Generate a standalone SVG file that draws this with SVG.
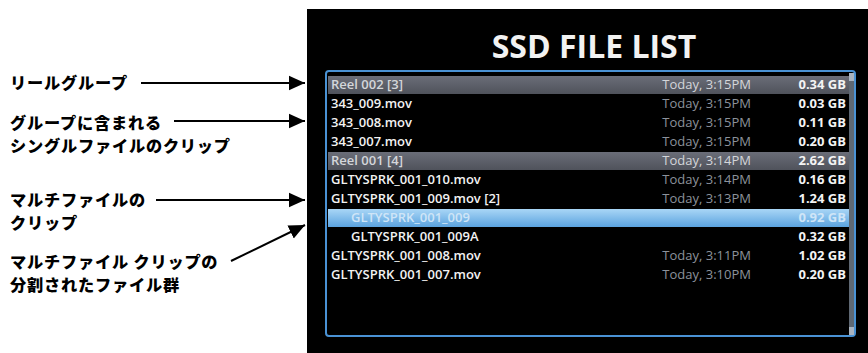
<svg xmlns="http://www.w3.org/2000/svg" width="868" height="353" viewBox="0 0 868 353">
<defs>
<style>
.lbl{font-family:"Noto Sans CJK JP","Noto Sans",sans-serif;font-weight:900;font-size:16.2px;letter-spacing:0.8px;fill:#000}
.nm{font-family:"Open Sans","DejaVu Sans",sans-serif;font-size:13px;fill:#f2f2f2;font-weight:600}
.dt{font-family:"Open Sans","DejaVu Sans",sans-serif;font-size:13px;fill:#8c929b;text-anchor:end}
.sz{font-family:"Open Sans","DejaVu Sans",sans-serif;font-size:13px;fill:#f4f4f4;font-weight:700;text-anchor:end}
.hl{fill:#cfe5f7}
.rd{fill:#d4d6da}
.arrow{stroke:#000;stroke-width:2;fill:none;marker-end:url(#ah)}
</style>
<marker id="ah" viewBox="0 0 10 10" refX="10" refY="5" markerWidth="8" markerHeight="8" orient="auto" markerUnits="strokeWidth">
<path d="M0,0.5 L10,5 L0,9.5 z" fill="#000"/>
</marker>
<linearGradient id="reel" x1="0" y1="0" x2="0" y2="1">
<stop offset="0" stop-color="#6a6d78"/>
<stop offset="1" stop-color="#4f525b"/>
</linearGradient>
<linearGradient id="sel" x1="0" y1="0" x2="0" y2="1">
<stop offset="0" stop-color="#a9d6f6"/>
<stop offset="1" stop-color="#5ba3df"/>
</linearGradient>
</defs>
<rect width="868" height="353" fill="#fff"/>

<g id="screen">
<rect x="307" y="9" width="561" height="344" fill="#000"/>
<text x="594" y="58" font-family="'Open Sans','DejaVu Sans',sans-serif" font-weight="700" font-size="32" fill="#f2f2f2" text-anchor="middle">SSD FILE LIST</text>
<rect x="326" y="71" width="529" height="265" rx="3" fill="none" stroke="#4a92d4" stroke-width="2"/>
<rect x="849" y="73" width="5" height="262" fill="#5f6873"/>
<rect x="849" y="73" width="5" height="8" fill="#aab4c0"/>
<rect x="849" y="327" width="5" height="8" fill="#aab4c0"/>
</g>

<g id="rows">
<rect x="328" y="76" width="521" height="18" fill="url(#reel)"/>
<text class="nm rd" x="331" y="89">Reel 002 [3]</text>
<text class="dt rd" x="751" y="89">Today, 3:15PM</text>
<text class="sz" x="846" y="89">0.34 GB</text>

<text class="nm" x="331" y="108">343_009.mov</text>
<text class="dt" x="751" y="108">Today, 3:15PM</text>
<text class="sz" x="846" y="108">0.03 GB</text>

<text class="nm" x="331" y="127">343_008.mov</text>
<text class="dt" x="751" y="127">Today, 3:15PM</text>
<text class="sz" x="846" y="127">0.11 GB</text>

<text class="nm" x="331" y="146">343_007.mov</text>
<text class="dt" x="751" y="146">Today, 3:15PM</text>
<text class="sz" x="846" y="146">0.20 GB</text>

<rect x="328" y="152" width="521" height="18" fill="url(#reel)"/>
<text class="nm rd" x="331" y="165">Reel 001 [4]</text>
<text class="dt rd" x="751" y="165">Today, 3:14PM</text>
<text class="sz" x="846" y="165">2.62 GB</text>

<text class="nm" x="331" y="184">GLTYSPRK_001_010.mov</text>
<text class="dt" x="751" y="184">Today, 3:14PM</text>
<text class="sz" x="846" y="184">0.16 GB</text>

<text class="nm" x="331" y="203">GLTYSPRK_001_009.mov [2]</text>
<text class="dt" x="751" y="203">Today, 3:13PM</text>
<text class="sz" x="846" y="203">1.24 GB</text>

<rect x="328" y="209" width="521" height="18" fill="url(#sel)"/>
<text class="nm hl" x="351" y="222">GLTYSPRK_001_009</text>
<text class="sz hl" x="846" y="222">0.92 GB</text>

<text class="nm" x="351" y="241">GLTYSPRK_001_009A</text>
<text class="sz" x="846" y="241">0.32 GB</text>

<text class="nm" x="331" y="260">GLTYSPRK_001_008.mov</text>
<text class="dt" x="751" y="260">Today, 3:11PM</text>
<text class="sz" x="846" y="260">1.02 GB</text>

<text class="nm" x="331" y="279">GLTYSPRK_001_007.mov</text>
<text class="dt" x="751" y="279">Today, 3:10PM</text>
<text class="sz" x="846" y="279">0.20 GB</text>
</g>

<g id="label-reel-group">
<text class="lbl" x="10" y="89">リールグループ</text>
</g>
<g id="label-single-clip">
<text class="lbl" x="10" y="129">グループに含まれる<tspan x="10" dy="22.5">シングルファイルのクリップ</tspan></text>
</g>
<g id="label-multi-clip">
<text class="lbl" x="10" y="206">マルチファイルの<tspan x="10" dy="23">クリップ</tspan></text>
</g>
<g id="label-multi-parts">
<text class="lbl" x="10" y="268">マルチファイル クリップの<tspan x="10" dy="22.5">分割されたファイル群</tspan></text>
</g>

<g id="connectors">
<line class="arrow" x1="141" y1="83" x2="305" y2="83"/>
<line class="arrow" x1="174" y1="121" x2="305" y2="121"/>
<line class="arrow" x1="156" y1="200" x2="305" y2="200"/>
<line class="arrow" x1="231" y1="261" x2="305" y2="225"/>
</g>
</svg>
